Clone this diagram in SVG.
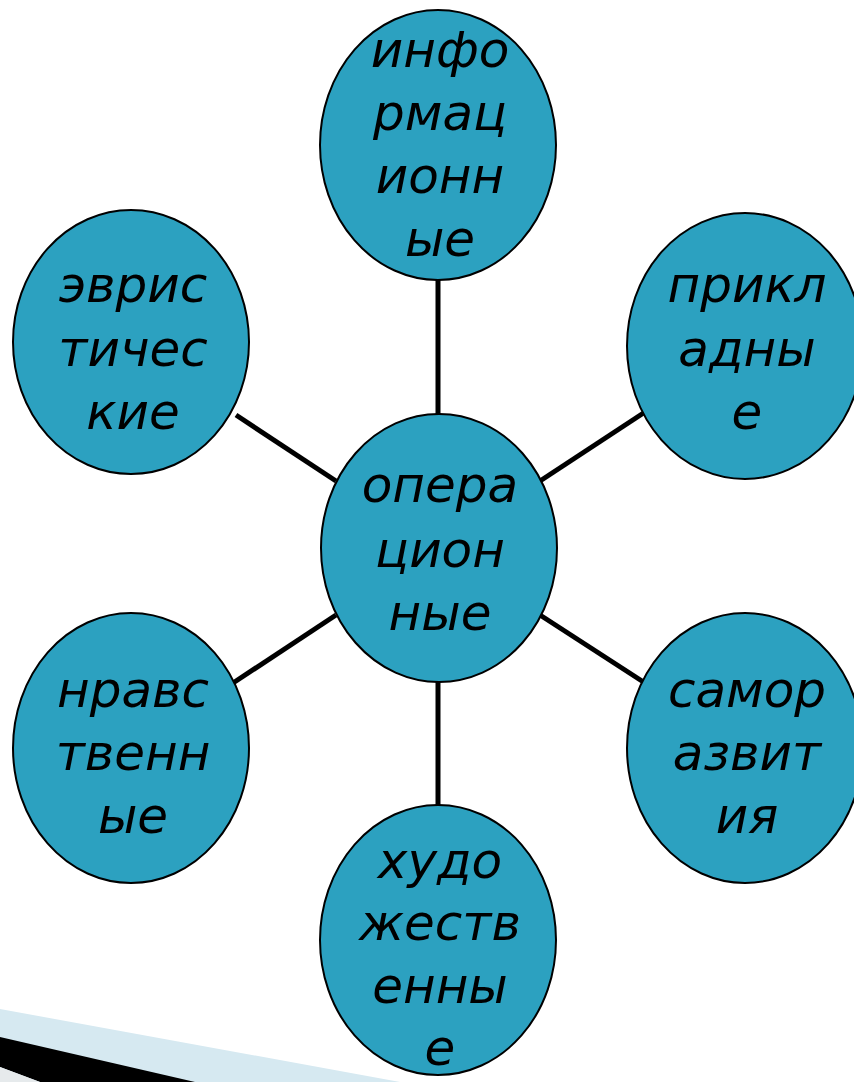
<svg xmlns="http://www.w3.org/2000/svg" width="854" height="1082" viewBox="0 0 854 1082">
<style>
.n{fill:#2ca1c0;stroke:#000;stroke-width:2}
.t{font-family:"DejaVu Sans","Liberation Sans",sans-serif;font-style:italic;font-size:50px;fill:#000;text-anchor:middle}
.c{stroke:#000;stroke-width:5;fill:none}
</style>
<rect width="854" height="1082" fill="#fff"/>
<g id="decor">
<polygon points="0,1009 400,1082 0,1082" fill="#d6e9f1"/>
<polygon points="0,1037 195,1082 40,1082 0,1067" fill="#000"/>
<polygon points="0,1067 40,1082 0,1082" fill="#e6eaec"/>
</g>
<g id="connectors">
<line class="c" x1="438" y1="279" x2="438" y2="415"/>
<line class="c" x1="236" y1="415" x2="336" y2="481"/>
<line class="c" x1="540" y1="481" x2="645" y2="412"/>
<line class="c" x1="233" y1="683" x2="336" y2="615"/>
<line class="c" x1="540" y1="615" x2="645" y2="683"/>
<line class="c" x1="438" y1="681" x2="438" y2="807"/>
</g>
<g id="n-info"><ellipse class="n" cx="438" cy="145" rx="118" ry="135"/>
<text class="t" x="440" y="67">инфо</text><text class="t" x="440" y="130">рмац</text><text class="t" x="440" y="193">ионн</text><text class="t" x="440" y="256">ые</text></g>
<g id="n-heur"><ellipse class="n" cx="131" cy="342" rx="118" ry="132"/>
<text class="t" x="133" y="302">эврис</text><text class="t" x="133" y="366">тичес</text><text class="t" x="133" y="429">кие</text></g>
<g id="n-appl"><ellipse class="n" cx="745" cy="346" rx="118" ry="133"/>
<text class="t" x="747" y="302">прикл</text><text class="t" x="747" y="366">адны</text><text class="t" x="747" y="429">е</text></g>
<g id="n-oper"><ellipse class="n" cx="439" cy="548" rx="118" ry="134"/>
<text class="t" x="440" y="502">опера</text><text class="t" x="440" y="567">цион</text><text class="t" x="440" y="630">ные</text></g>
<g id="n-moral"><ellipse class="n" cx="131" cy="748" rx="118" ry="135"/>
<text class="t" x="133" y="707">нравс</text><text class="t" x="133" y="770">твенн</text><text class="t" x="133" y="833">ые</text></g>
<g id="n-self"><ellipse class="n" cx="745" cy="748" rx="118" ry="135"/>
<text class="t" x="747" y="707">самор</text><text class="t" x="747" y="770">азвит</text><text class="t" x="747" y="833">ия</text></g>
<g id="n-art"><ellipse class="n" cx="438" cy="940" rx="118" ry="135"/>
<text class="t" x="440" y="878">худо</text><text class="t" x="440" y="940">жеств</text><text class="t" x="440" y="1003">енны</text><text class="t" x="440" y="1065">е</text></g>
</svg>
